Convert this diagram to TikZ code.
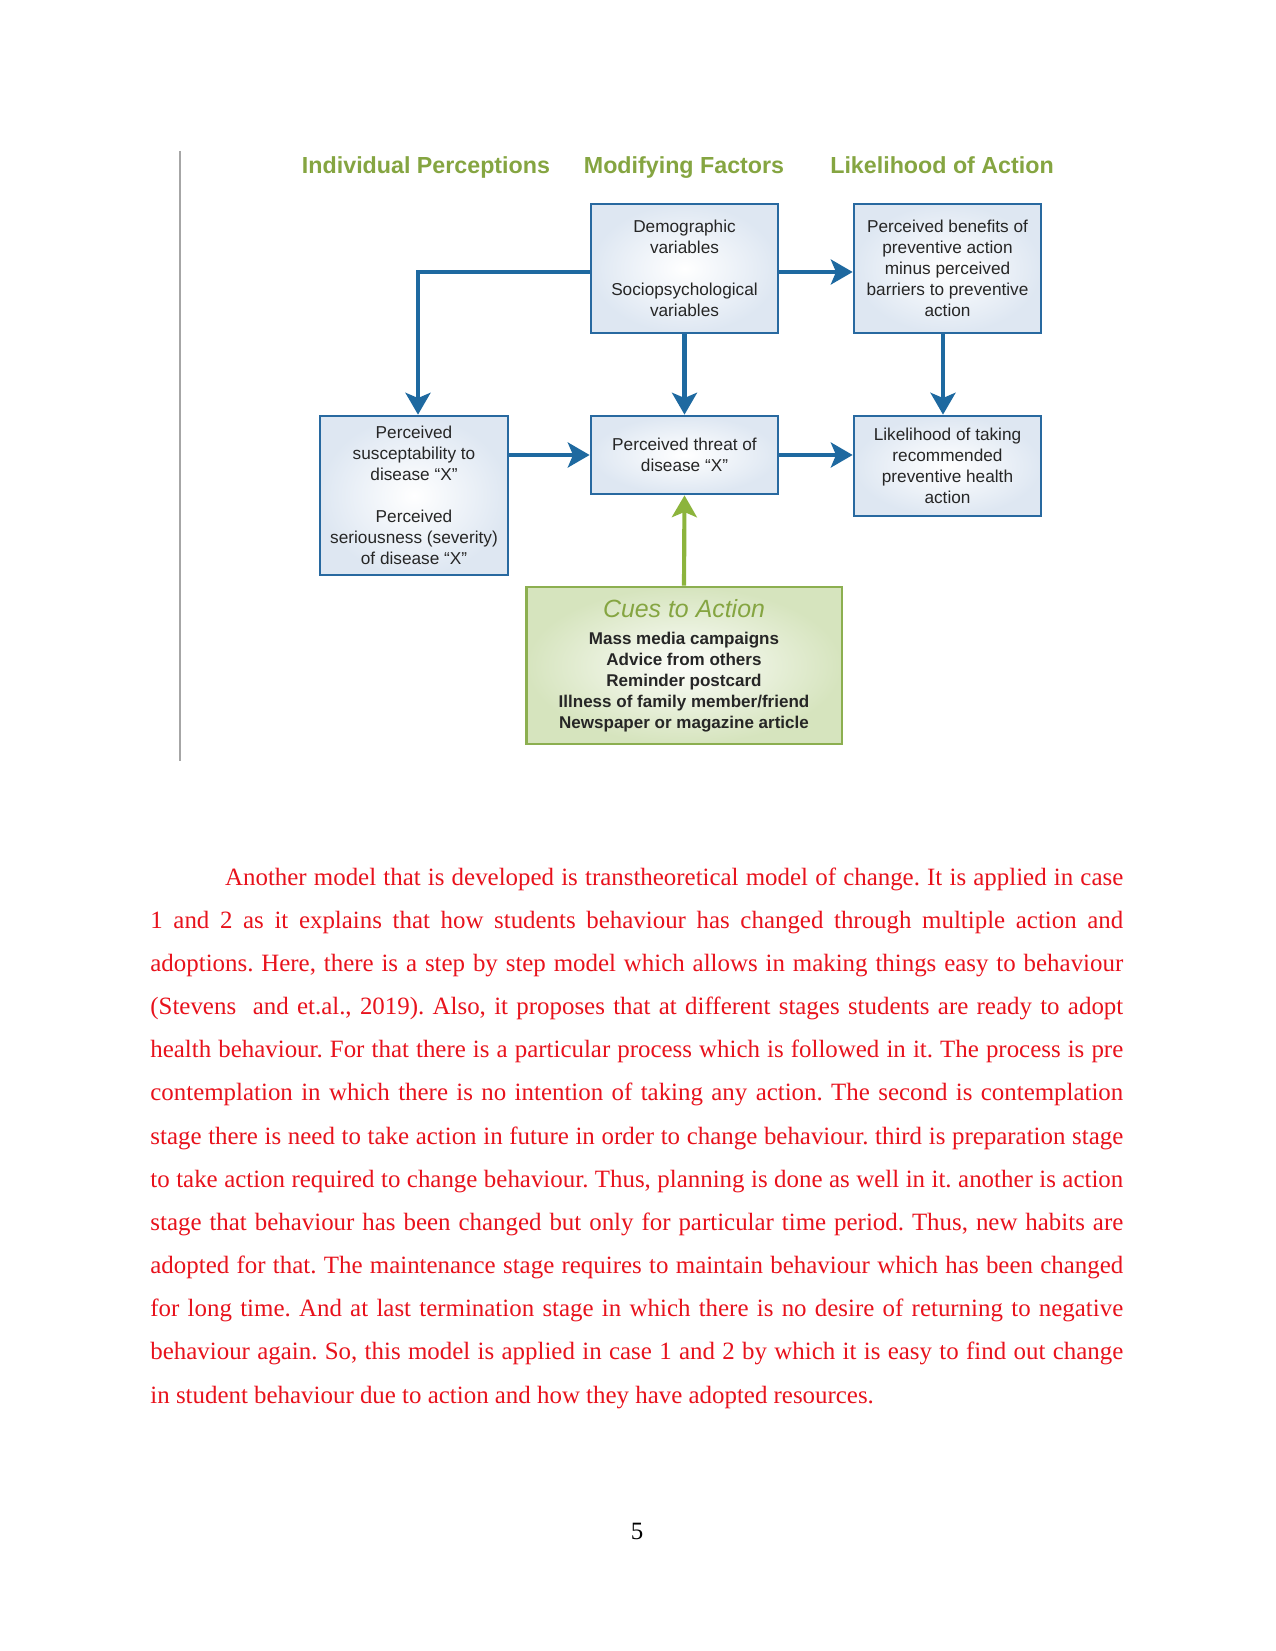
\documentclass[tikz,border=0pt]{standalone}
\usepackage{fontspec}
\setmainfont{Liberation Serif}
\setsansfont{Liberation Sans}
\usetikzlibrary{arrows.meta}
\definecolor{hdrgreen}{RGB}{133,165,65}
\definecolor{boxblue}{RGB}{40,105,160}
\definecolor{arrblue}{RGB}{30,105,160}
\definecolor{fillblue}{RGB}{222,231,242}
\definecolor{cuegreen}{RGB}{140,175,80}
\definecolor{cuefill}{RGB}{214,228,190}
\definecolor{arrgreen}{RGB}{140,180,60}
\definecolor{textred}{RGB}{232,18,28}
\tikzset{
  hdr/.style={font=\sffamily\bfseries\fontsize{11.2}{13}\selectfont, text=hdrgreen, inner sep=0pt, anchor=base},
  bluebox/.style={draw=boxblue, line width=1.3pt, inner color=white, outer color=fillblue,
    align=center, inner sep=0pt, font=\sffamily\fontsize{8.3}{10.1}\selectfont, text=black!85},
  cuebox/.style={draw=cuegreen, line width=1.4pt, inner color=white!92!cuefill, outer color=cuefill,
    align=center, inner sep=0pt, font=\sffamily\bfseries\fontsize{8.2}{10.1}\selectfont, text=black!85},
  barrow/.style={draw=arrblue, line width=2pt, -{Stealth[length=10.5pt,width=12pt,inset=2.5pt]}},
  garrow/.style={draw=arrgreen, line width=2pt, -{Stealth[length=10.5pt,width=12pt,inset=2.5pt]}}
}
\begin{document}
\begin{tikzpicture}[x=0.4818pt,y=-0.4818pt]
\useasboundingbox[fill=white] (0,0) rectangle (1275,1651);
% margin rule
\draw[gray!70, line width=0.6pt] (180,151) -- (180,761);
% headers
\node[hdr] (h1) at (426,174) {Individual Perceptions};
\node[hdr] (h2) at (684,174) {Modifying Factors};
\node[hdr] (h3) at (942,174) {Likelihood of Action};
% boxes
\node[bluebox, minimum width=90.1pt, minimum height=62.2pt] (dem) at (684.5,268.5)
  {Demographic\\variables\\[10.1pt]Sociopsychological\\variables};
\node[bluebox, minimum width=90.1pt, minimum height=62.2pt] (ben) at (947.5,268.5)
  {Perceived benefits of\\preventive action\\minus perceived\\barriers to preventive\\action};
\node[bluebox, minimum width=90.6pt, minimum height=76.6pt] (sus) at (414,495.5)
  {Perceived\\susceptability to\\disease ``X''\\[10.1pt]Perceived\\seriousness (severity)\\of disease ``X''};
\node[bluebox, minimum width=90.1pt, minimum height=37.6pt] (thr) at (684.5,455)
  {Perceived threat of\\disease ``X''};
\node[bluebox, minimum width=90.1pt, minimum height=48.2pt] (lik) at (947.5,466)
  {Likelihood of taking\\recommended\\preventive health\\action};
\node[cuebox, minimum width=152.2pt, minimum height=75.6pt] (cue) at (684,665.5)
  {{\mdseries\itshape\fontsize{12}{14}\selectfont\color{hdrgreen}Cues to Action}\\[3pt]
   Mass media campaigns\\Advice from others\\Reminder postcard\\Illness of family member/friend\\Newspaper or magazine article};
% connectors
\coordinate (lturn) at (418,272);
\draw[barrow] (dem.west |- lturn) -- (lturn) -- (lturn |- sus.north);
\draw[barrow] (dem.east |- lturn) -- (ben.west |- lturn);
\draw[barrow] (dem.south) -- (thr.north);
\coordinate (bdown) at (943,333);
\draw[barrow] (bdown |- ben.south) -- (bdown |- lik.north);
\draw[barrow] (sus.east |- thr.west) -- (thr.west);
\draw[barrow] (thr.east) -- (thr.east -| lik.west);
\draw[garrow] (cue.north) -- (thr.south);
% paragraph
\node[anchor=base west, inner sep=0pt, text=textred] (para) at (150,885)
 {\parbox[t]{468.7pt}{\fontsize{12}{20.8}\selectfont\frenchspacing\hyphenpenalty=10000\tolerance=9999\emergencystretch=20pt
 \hspace*{36pt}Another model that is developed is transtheoretical model of change. It is applied in case\linebreak
 1 and 2 as it explains that how students behaviour has changed through multiple action and\linebreak
 adoptions. Here, there is a step by step model which allows in making things easy to behaviour\linebreak
 (Stevens\ \ and et.al., 2019). Also, it proposes that at different stages students are ready to adopt\linebreak
 health behaviour. For that there is a particular process which is followed in it. The process is pre\linebreak
 contemplation in which there is no intention of taking any action. The second is contemplation\linebreak
 stage there is need to take action in future in order to change behaviour. third is preparation stage\linebreak
 to take action required to change behaviour. Thus, planning is done as well in it. another is action\linebreak
 stage that behaviour has been changed but only for particular time period. Thus, new habits are\linebreak
 adopted for that. The maintenance stage requires to maintain behaviour which has been changed\linebreak
 for long time. And at last termination stage in which there is no desire of returning to negative\linebreak
 behaviour again. So, this model is applied in case 1 and 2 by which it is easy to find out change\linebreak
 in student behaviour due to action and how they have adopted resources.}};
% page number
\node[anchor=base, inner sep=0pt, font=\fontsize{12}{14}\selectfont] (pnum) at (637,1539) {5};
\end{tikzpicture}
\end{document}
